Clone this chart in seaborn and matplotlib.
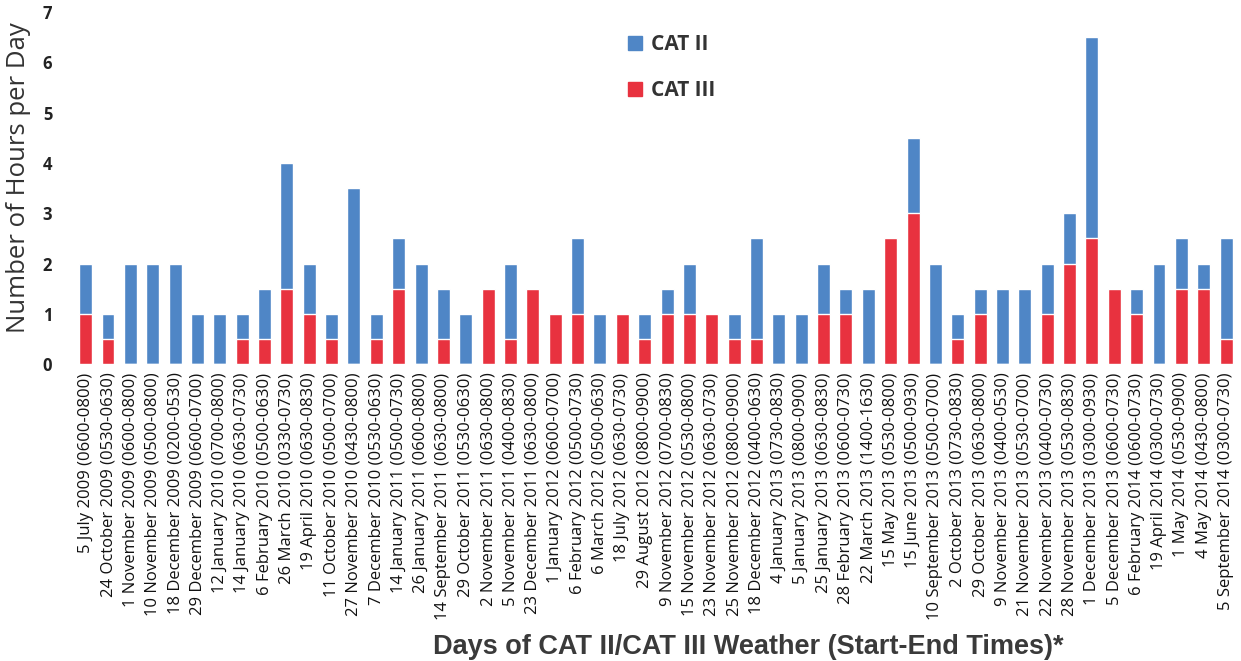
import numpy as np
import pandas as pd
import seaborn as sns
import matplotlib
matplotlib.use('Agg')
import matplotlib.pyplot as plt
from matplotlib.patches import Patch

# Dias com tempo CAT II / CAT III (horario inicio-fim)
days = [
    "5 July 2009 (0600-0800)", "24 October 2009 (0530-0630)",
    "1 November 2009 (0600-0800)", "10 November 2009 (0500-0800)",
    "18 December 2009 (0200-0530)", "29 December 2009 (0600-0700)",
    "12 January 2010 (0700-0800)", "14 January 2010 (0630-0730)",
    "6 February 2010 (0500-0630)", "26 March 2010 (0330-0730)",
    "19 April 2010 (0630-0830)", "11 October 2010 (0500-0700)",
    "27 November 2010 (0430-0800)", "7 December 2010 (0530-0630)",
    "14 January 2011 (0500-0730)", "26 January 2011 (0600-0800)",
    "14 September 2011 (0630-0800)", "29 October 2011 (0530-0630)",
    "2 November 2011 (0630-0800)", "5 November 2011 (0400-0830)",
    "23 December 2011 (0630-0800)", "1 January 2012 (0600-0700)",
    "6 February 2012 (0500-0730)", "6 March 2012 (0500-0630)",
    "18 July 2012 (0630-0730)", "29 August 2012 (0800-0900)",
    "9 November 2012 (0700-0830)", "15 November 2012 (0530-0800)",
    "23 November 2012 (0630-0730)", "25 November 2012 (0800-0900)",
    "18 December 2012 (0400-0630)", "4 January 2013 (0730-0830)",
    "5 January 2013 (0800-0900)", "25 January 2013 (0630-0830)",
    "28 February 2013 (0600-0730)", "22 March 2013 (1400-1630)",
    "15 May 2013 (0530-0800)", "15 June 2013 (0500-0930)",
    "10 September 2013 (0500-0700)", "2 October 2013 (0730-0830)",
    "29 October 2013 (0630-0800)", "9 November 2013 (0400-0530)",
    "21 November 2013 (0530-0700)", "22 November 2013 (0400-0730)",
    "28 November 2013 (0530-0830)", "1 December 2013 (0300-0930)",
    "5 December 2013 (0600-0730)", "6 February 2014 (0600-0730)",
    "19 April 2014 (0300-0730)", "1 May 2014 (0530-0900)",
    "4 May 2014 (0430-0800)", "5 September 2014 (0300-0730)",
]

cat_iii = [1, 0.5, 0, 0, 0, 0, 0, 0.5, 0.5, 1.5, 1, 0.5, 0, 0.5, 1.5, 0,
           0.5, 0, 1.5, 0.5, 1.5, 1, 1, 0, 1, 0.5, 1, 1, 1, 0.5, 0.5, 0,
           0, 1, 1, 0, 2.5, 3, 0, 0.5, 1, 0, 0, 1, 2, 2.5, 1.5, 1, 0, 1.5,
           1.5, 0.5]
cat_ii = [1, 0.5, 2, 2, 2, 1, 1, 0.5, 1, 2.5, 1, 0.5, 3.5, 0.5, 1, 2,
          1, 1, 0, 1.5, 0, 0, 1.5, 1, 0, 0.5, 0.5, 1, 0, 0.5, 2, 1,
          1, 1, 0.5, 1.5, 0, 1.5, 2, 0.5, 0.5, 1.5, 1.5, 1, 1, 4, 0, 0.5, 2, 1,
          0.5, 2]

blue = "#4F86C6"
red = "#E8323F"

df = pd.DataFrame({"day": days, "cat_iii": cat_iii, "cat_ii": cat_ii})
df["total"] = df["cat_iii"] + df["cat_ii"]

sns.set_style("white")
plt.rcParams['font.family'] = ['Open Sans', 'DejaVu Sans']

fig = plt.figure(figsize=(12.41, 6.61), dpi=100)
ax = fig.add_axes([0.06, 0.449, 0.937, 0.533])

# barras empilhadas: total (azul) e CAT III por cima (vermelho)
sns.barplot(data=df, x="day", y="total", color=blue, width=0.58,
            saturation=1, ax=ax)
sns.barplot(data=df, x="day", y="cat_iii", color=red, width=0.58,
            saturation=1, ax=ax)

ax.set_ylim(0, 7)
ax.set_xlim(-0.5, len(days) - 0.5)
ax.set_yticks(range(0, 8))
ax.tick_params(axis='y', labelsize=12, length=0, pad=16, labelcolor='#222222')
ax.tick_params(axis='x', labelsize=12, length=0, pad=6, labelcolor='#111111')
for lbl in ax.get_yticklabels():
    lbl.set_fontweight('bold')
plt.setp(ax.get_xticklabels(), rotation=90)
sns.despine(ax=ax, left=True, bottom=True)

ax.set_ylabel("Number of Hours per Day", fontsize=18.5, color='#333333')
ax.yaxis.set_label_coords(-0.037, 0.53)
ax.set_xlabel("")
fig.text(0.603, 0.002, "Days of CAT II/CAT III Weather (Start-End Times)*",
         ha='center', va='bottom', fontsize=19.5, color='#3a3a3a',
         fontweight='bold', family=['Liberation Sans', 'DejaVu Sans'])

handles = [Patch(color=blue, label="CAT II"), Patch(color=red, label="CAT III")]
ax.legend(handles=handles, loc='upper left', bbox_to_anchor=(0.46, 0.99),
          frameon=False, labelspacing=1.2, handlelength=0.65,
          handleheight=0.65, handletextpad=0.45, labelcolor='#333333',
          prop={'weight': 'bold', 'size': 15})

plt.savefig("out.png", dpi=100)
plt.close()
